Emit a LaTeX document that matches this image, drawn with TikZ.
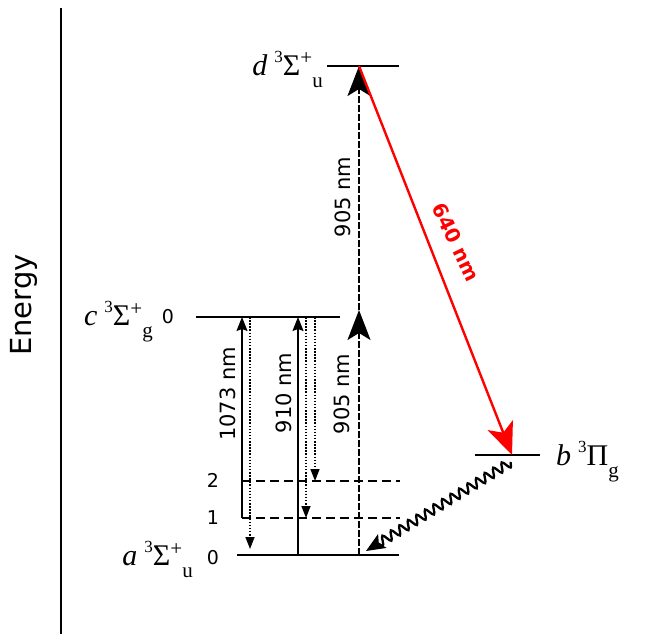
\documentclass[tikz,border=0pt]{standalone}
\usepackage{fontspec}
\setmainfont{DejaVu Sans}
\newfontfamily\tms{Liberation Serif}
\usetikzlibrary{arrows.meta,decorations.pathmorphing}
\newcommand{\molterm}[4]{{\fontsize{30}{30}\selectfont\itshape #1}\hspace{7pt}\raisebox{13pt}{\fontsize{17}{17}\selectfont 3}{\fontsize{30}{30}\selectfont #2}\raisebox{10pt}{\fontsize{21}{21}\selectfont #3}\raisebox{-12pt}{\fontsize{21}{21}\selectfont #4}}

\begin{document}
\begin{tikzpicture}[x=1pt,y=-1pt,line join=miter,
  every node/.style={font=\fontsize{21}{24}\selectfont,inner sep=0pt},
  level/.style={line width=1.6pt},
  sublevel/.style={line width=1.8pt,dash pattern=on 9pt off 5pt},
  pump/.style={line width=2.2pt,dash pattern=on 7pt off 2pt},
  bighead/.style={-{Stealth[length=30pt,width=23pt,inset=7pt]}},
  up/.style={line width=1.1pt,-{Stealth[length=14pt,width=11pt,inset=2pt]}},
  down/.style={line width=1.6pt,dash pattern=on 1.5pt off 1.6pt,-{Triangle[length=12pt,width=9pt]}},
  vnum/.style={font=\fontsize{19}{21}\selectfont},
  state/.style={font=\tms,anchor=base east}]
  % Energy levels of the molecule with pump, decay and emission paths.
  \useasboundingbox (0,0) rectangle (645,634);

  \coordinate (E0) at (61,8);
  \coordinate (E1) at (61,634);
  \draw[line width=1.3pt] (E0)--(E1);
  \node[rotate=90,font=\fontsize{29}{32}\selectfont] (energy) at (24,305) {Energy};

  \coordinate (dL) at (327,66);
  \coordinate (dR) at (399,66);
  \coordinate (cL) at (196,317);
  \coordinate (cR) at (340,317);
  \coordinate (aL) at (237,555);
  \coordinate (aR) at (399,555);
  \coordinate (v2L) at (242,481);
  \coordinate (v2R) at (400,481);
  \coordinate (v1L) at (242,518);
  \coordinate (v1R) at (400,518);
  \coordinate (bL) at (475,455);
  \coordinate (bR) at (540,455);
  \draw[level,line width=1.2pt] (dL)--(dR);
  \draw[level] (cL)--(cR);
  \draw[level] (aL)--(aR);
  \draw[level,line width=1.4pt] (bL)--(bR);
  \draw[sublevel] (v2L)--(v2R);
  \draw[sublevel] (v1L)--(v1R);

  \node[state] (dlab) at (323,75) {\molterm{d}{Σ}{+}{u}};
  \node[state] (clab) at (153,325) {\molterm{c}{Σ}{+}{g}};
  \node[state] (alab) at (193,565) {\molterm{a}{Σ}{+}{u}};
  \node[state,anchor=base west] (blab) at (556,465) {\molterm{b}{Π}{}{g}};
  \node[vnum] (c0) at (168,317) {0};
  \node[vnum] (a0) at (213,558) {0};
  \node[vnum] (v1) at (213,518) {1};
  \node[vnum] (v2) at (213,480) {2};

  \coordinate (s1073) at (250,317);
  \coordinate (s910) at (298,555);
  \coordinate (s306) at (306,317);
  \coordinate (s315) at (315,317);
  \draw[up] (v1L)--(v1L |- cL);
  \draw[down] (s1073)--([yshift=6pt]s1073 |- aL);
  \draw[up] (s910)--(s910 |- cL);
  \draw[down] (s306)--(s306 |- v1L);
  \draw[down] (s315)--(s315 |- v2L);
  \node[rotate=90] (l1073) at (228,394) {1073 nm};
  \node[rotate=90] (l910) at (284,393) {910 nm};

  \coordinate (abot) at (359,555);
  \coordinate (cmid) at (359,310);
  \coordinate (dtop) at (359,66);
  \draw[pump,bighead] (abot)--(cmid);
  \draw[pump,bighead] (cmid)--(dtop);
  \node[rotate=90] (l905a) at (342,394) {905 nm};
  \node[rotate=90] (l905b) at (343,197) {905 nm};

  \coordinate (bmid) at (512,455);
  \draw[red,line width=2.4pt,-{Stealth[length=32pt,width=27pt,inset=8pt]}] (dtop)--(bmid);
  \node[red,rotate=-64,font=\bfseries\fontsize{20}{23}\selectfont] (l640) at (456,242) {640 nm};

  \coordinate (bstart) at (511,462);
  \coordinate (aend) at (366,551);
  \draw[line width=2.3pt,-{Stealth[length=19pt,width=16pt,inset=4pt]},decorate,
    decoration={snake,amplitude=4.5pt,segment length=10pt,post length=13pt}] (bstart)--(aend);
\end{tikzpicture}
\end{document}
